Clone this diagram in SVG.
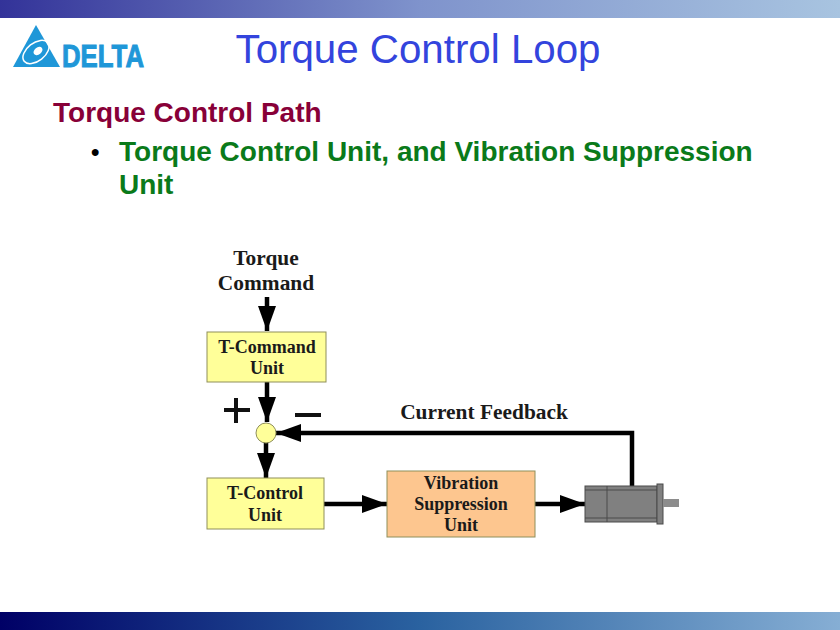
<svg xmlns="http://www.w3.org/2000/svg" width="840" height="630" viewBox="0 0 840 630">
<style>
.box{stroke:#8f8f5a;stroke-width:1}
.y{fill:#ffff99}
.lbl{font-family:"Liberation Serif",serif;font-weight:bold;font-size:18px;fill:#1a1a1a;text-anchor:middle}
.big{font-size:21.4px}
.head{font-family:"Liberation Sans",sans-serif;font-size:28px;font-weight:bold}
.wire{fill:none;stroke:#000;stroke-width:4.5}
.m{fill:#808080;stroke:#4a4a4a;stroke-width:1}
</style>
<defs>
<linearGradient id="top" x1="0" x2="1" y1="0" y2="0"><stop offset="0" stop-color="#333399"/><stop offset="0.5" stop-color="#7f93cc"/><stop offset="1" stop-color="#a8c4e0"/></linearGradient>
<linearGradient id="bot" x1="0" x2="1" y1="0" y2="0"><stop offset="0" stop-color="#000066"/><stop offset="0.5" stop-color="#2a62a0"/><stop offset="1" stop-color="#86aed4"/></linearGradient>
<marker id="arr" markerUnits="userSpaceOnUse" markerWidth="26" markerHeight="20" refX="25" refY="9" orient="auto"><path d="M0 0L25 9L0 18Z" fill="#000"/></marker>
</defs>
<rect width="840" height="630" fill="#fff"/>
<rect id="top-band" width="840" height="18" fill="url(#top)"/>
<rect id="bottom-band" y="612" width="840" height="18" fill="url(#bot)"/>
<g id="logo">
<path d="M36 25L60 67H13Z" fill="#1f97d8"/>
<ellipse cx="36" cy="52" rx="15" ry="9" transform="rotate(-38 36 52)" fill="none" stroke="#fff" stroke-width="1.5"/>
<ellipse cx="38" cy="51" rx="5" ry="3.5" transform="rotate(-38 38 51)" fill="#fff"/>
<text x="62" y="67" font-family="'Liberation Sans',sans-serif" font-weight="bold" font-size="31" fill="#1f97d8" stroke="#1f97d8" stroke-width="1" textLength="82" lengthAdjust="spacingAndGlyphs">DELTA</text>
</g>
<g id="title"><text x="418" y="63" font-family="'Liberation Sans',sans-serif" font-size="40" fill="#3344dd" text-anchor="middle" textLength="365" lengthAdjust="spacingAndGlyphs">Torque Control Loop</text></g>
<g id="text-body">
<text x="53" y="122" class="head" fill="#880038">Torque Control Path</text>
<text x="91" y="160" class="head" style="font-size:24px" fill="#000">•</text>
<text x="119" y="161" class="head" fill="#0a7a1a">Torque Control Unit, and Vibration Suppression</text>
<text x="119" y="194" class="head" fill="#0a7a1a">Unit</text>
</g>
<g id="connectors">
<path class="wire" d="M267 297V331" marker-end="url(#arr)"/>
<path class="wire" d="M267 382V422" marker-end="url(#arr)"/>
<path class="wire" d="M266 442V478" marker-end="url(#arr)"/>
<path class="wire" d="M632 487V433H276" marker-end="url(#arr)"/>
<path class="wire" d="M323 504H387" marker-end="url(#arr)"/>
<path class="wire" d="M534 504H585" marker-end="url(#arr)"/>
</g>
<g id="torque-command"><text class="lbl big" x="266" y="265">Torque</text><text class="lbl big" x="266" y="290">Command</text></g>
<g id="t-command-unit"><rect class="box y" x="207" y="332" width="119" height="50"/><text class="lbl" x="267" y="353">T-Command</text><text class="lbl" x="267" y="374">Unit</text></g>
<g id="summing-junction"><circle cx="266" cy="433" r="10" fill="#ffff99" stroke="#8f8f5a"/></g>
<g id="plus"><path d="M224 410H250M236 398V423" stroke="#111" stroke-width="4" fill="none"/></g>
<g id="minus"><path d="M295 415H321" stroke="#111" stroke-width="4" fill="none"/></g>
<g id="current-feedback"><text class="lbl big" x="484" y="419">Current Feedback</text></g>
<g id="t-control-unit"><rect class="box y" x="207" y="478" width="117" height="51"/><text class="lbl" x="265" y="499">T-Control</text><text class="lbl" x="265" y="521">Unit</text></g>
<g id="vibration-suppression-unit"><rect class="box" x="387" y="471" width="148" height="66" fill="#fdc68f"/><text class="lbl" x="461" y="489">Vibration</text><text class="lbl" x="461" y="510">Suppression</text><text class="lbl" x="461" y="531">Unit</text></g>
<g id="motor">
<rect class="m" x="585" y="486" width="72" height="36"/>
<path d="M585 490H657M585 518H657M607 486V522" stroke="#4a4a4a" fill="none"/>
<rect class="m" x="657" y="484" width="6" height="40"/>
<rect x="663" y="499" width="16" height="8" fill="#8c8c8c"/>
</g>
</svg>
